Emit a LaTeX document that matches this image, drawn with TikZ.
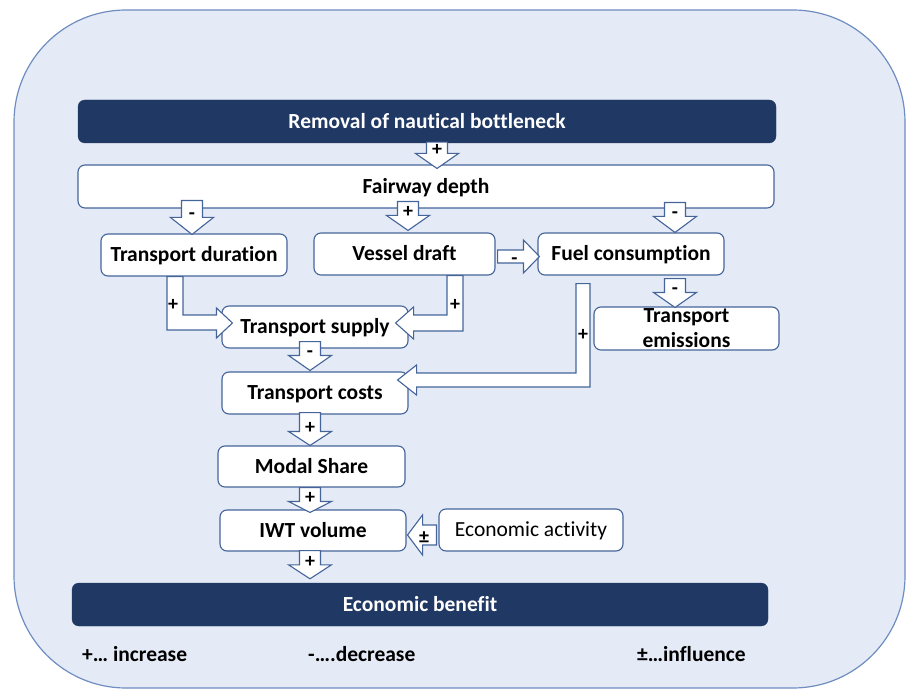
\documentclass[tikz,border=0pt]{standalone}
\usepackage{fontspec}
\setmainfont{Carlito}[Ligatures={NoCommon}]
\usetikzlibrary{calc}
\definecolor{navy}{HTML}{203864}
\definecolor{bgblue}{HTML}{E4EAF6}
\definecolor{outline}{HTML}{6F8DC1}
\definecolor{boxline}{HTML}{44649A}
\tikzset{
  txtfont/.style={font=\fontsize{21.5}{25}\selectfont\bfseries},
  box/.style={draw=boxline, line width=1.1pt, fill=white, rounded corners=7pt,
    txtfont, text height=13.8pt, text depth=0pt, inner sep=0pt},
  bar/.style={fill=navy, draw=navy, rounded corners=7pt, text=white,
    txtfont, text height=13.8pt, text depth=0pt, inner sep=0pt},
  barrow/.style={draw=boxline, line width=1.1pt, fill=white, line join=miter},
  lab/.style={font=\fontsize{20}{24}\selectfont\bfseries, inner sep=0pt, text height=13.5pt, text depth=0pt},
  legend/.style={txtfont, anchor=west, inner sep=0pt, text height=13.8pt, text depth=0pt}
}
% vertical block arrow: x, source, target, label, top shift, tip shift (px, downward), head length
\newcommand\varrow[7]{%
  \draw[barrow] let \p1=($(#2.south)+(0,#5)$), \p2=($(#3.north)+(0,#6)$), \p3=(#1,0) in
    (\x3-10.5pt,\y1) -- (\x3-10.5pt,\y2+#7pt) -- (\x3-21.5pt,\y2+#7pt)
    -- (\x3,\y2) -- (\x3+21.5pt,\y2+#7pt) -- (\x3+10.5pt,\y2+#7pt)
    -- (\x3+10.5pt,\y1) -- cycle
    node[lab] at (\x3,\y2+#7pt+4.5pt) {#4};}
\begin{document}
\begin{tikzpicture}[x=1pt,y=-1pt]
\useasboundingbox (0,0) rectangle (906,690);
\draw[fill=bgblue, draw=outline, line width=1.2pt, rounded corners=112pt] (14,10) rectangle (905,688);

% nodes
\node[bar, minimum width=698pt, minimum height=43pt] (rem) at (427,121.5) {Removal of nautical bottleneck};
\node[box, minimum width=696pt, minimum height=43pt] (fd) at (426,186.5) {Fairway depth};
\node[box, minimum width=186pt, minimum height=42pt] (td) at (194,255) {Transport duration};
\node[box, minimum width=181pt, minimum height=42pt] (vd) at (404.5,254) {Vessel draft};
\node[box, minimum width=186pt, minimum height=42pt] (fc) at (631,254) {Fuel consumption};
\node[box, minimum width=186pt, minimum height=42pt] (ts) at (315,327) {Transport supply};
\node[box, minimum width=185pt, minimum height=43pt] (em) at (686.5,328.5) {};
\node[txtfont, align=center, inner sep=0pt] (emt) at (em.center) {Transport\\emissions};
\node[box, minimum width=186pt, minimum height=42pt] (tc) at (315,393) {Transport costs};
\node[box, minimum width=187pt, minimum height=41pt] (ms) at (311.5,466.5) {Modal Share};
\node[box, minimum width=186pt, minimum height=41pt] (iwt) at (313,530.5) {IWT volume};
\node[box, minimum width=184pt, minimum height=42pt, font=\fontsize{21.5}{25}\selectfont] (ea) at (531,530) {Economic activity};
\node[bar, minimum width=696pt, minimum height=43pt] (eb) at (420,604.5) {Economic benefit};

% vertical arrows
\varrow{437}{rem}{fd}{+}{-1}{4}{15}
\varrow{192}{fd}{td}{-}{-8}{1}{17}
\varrow{408}{fd}{vd}{+}{-7}{-2}{15}
\varrow{675}{fd}{fc}{-}{-6}{0}{16}
\varrow{675}{fc}{em}{-}{3}{1}{15}
\varrow{310}{ts}{tc}{-}{-7}{-1}{15}
\varrow{310}{tc}{ms}{+}{-2}{0}{14}
\varrow{310}{ms}{iwt}{+}{0}{3}{11}
\varrow{310}{iwt}{eb}{+}{-1}{-4}{14}

% horizontal arrows
\draw[barrow] let \p1=(vd.east), \p2=(fc.west), \p3=(0,256.5) in
  (\x1+2pt,\y3+6.5pt) -- (\x2-14pt,\y3+6.5pt) -- (\x2-14pt,\y3+16.5pt) -- (\x2+2pt,\y3)
  -- (\x2-14pt,\y3-16.5pt) -- (\x2-14pt,\y3-6.5pt) -- (\x1+2pt,\y3-6.5pt) -- cycle
  node[lab] at (\x1+19pt,\y3-1pt) {-};
\draw[barrow] let \p1=(ea.west), \p2=(iwt.east), \p3=(0,535) in
  (\x1-2pt,\y3-10pt) -- (\x2+16pt,\y3-10pt) -- (\x2+16pt,\y3-20pt) -- (\x2+1pt,\y3)
  -- (\x2+16pt,\y3+20pt) -- (\x2+16pt,\y3+10pt) -- (\x1-2pt,\y3+10pt) -- cycle
  node[lab] at (424,537) {±};

% bent arrows
\draw[barrow] let \p1=(td.south), \p2=(ts.west) in
  (\x1-27pt,\y1) -- (\x1-27pt,\y2-3pt) -- (\x2-5pt,\y2-3pt) -- (\x2-5pt,\y2-11pt)
  -- (\x2+11pt,\y2+4pt) -- (\x2-5pt,\y2+19pt) -- (\x2-5pt,\y2+12pt) -- (\x1-11pt,\y2+12pt)
  -- (\x1-11pt,\y1) -- cycle
  node[lab] at (\x1-21pt,\y1-27pt) {+};
\draw[barrow] let \p1=(vd.south), \p2=(ts.east) in
  (\x1+58.5pt,\y1) -- (\x1+58.5pt,\y2-4pt) -- (\x2+5pt,\y2-4pt) -- (\x2+5pt,\y2-12pt)
  -- (\x2-13pt,\y2+4pt) -- (\x2+5pt,\y2+20pt) -- (\x2+5pt,\y2+12pt) -- (\x1+42.5pt,\y2+12pt)
  -- (\x1+42.5pt,\y1) -- cycle
  node[lab] at (\x1+50.5pt,\y1-28pt) {+};
\draw[barrow] let \p1=(fc.south), \p2=(tc.east) in
  (\x1-41pt,\y1-8pt) -- (\x1-41pt,\y2+6pt) -- (\x2+8pt,\y2+6pt) -- (\x2+8pt,\y2-2pt)
  -- (\x2-11pt,\y2+13pt) -- (\x2+8pt,\y2+28pt) -- (\x2+8pt,\y2+20pt) -- (\x1-55pt,\y2+20pt)
  -- (\x1-55pt,\y1-8pt) -- cycle
  node[lab] at (\x1-48pt,\y1-58pt) {+};

% legend
\node[legend] (l1) at (82,655) {+… increase};
\node[legend] (l2) at (308,655) {-….decrease};
\node[legend] (l3) at (637,655) {±…influence};
\end{tikzpicture}
\end{document}
